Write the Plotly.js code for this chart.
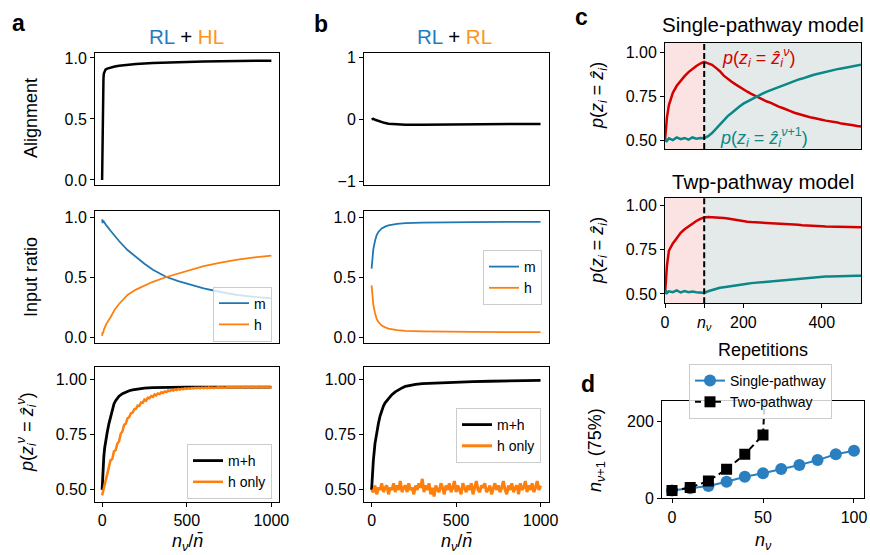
<!DOCTYPE html>
<html><head><meta charset="utf-8">
<script src="https://cdn.plot.ly/plotly-3.0.1.min.js"></script>
<style>html,body{margin:0;padding:0;background:#fff}#chart{width:870px;height:555px}</style>
</head><body><div id="chart"></div>
<script>
// ---------------- data ----------------
// panel a, top: alignment
const aAlignX = [0,2,4,6,8,10,15,20,30,50,75,100,150,200,300,400,500,600,700,800,900,1000];
const aAlignY = [0,0.35,0.62,0.76,0.83,0.87,0.895,0.905,0.913,0.922,0.93,0.937,0.945,0.95,0.958,0.964,0.968,0.971,0.974,0.976,0.977,0.978];
// panel a, middle: input ratio
const aRatioX = [0,3,6,10,25,50,75,100,150,200,250,300,380,450,500,600,700,800,900,1000];
const aRatioM = [0.98,0.95,0.97,0.96,0.93,0.885,0.84,0.80,0.725,0.665,0.61,0.56,0.50,0.465,0.445,0.405,0.375,0.35,0.335,0.322];
const aRatioH = [0.01,0.04,0.03,0.06,0.11,0.165,0.23,0.275,0.35,0.395,0.43,0.46,0.50,0.53,0.55,0.59,0.62,0.645,0.663,0.678];
// panel a, bottom: p(z = z^)
const aMhX = [0,3,6,10,15,20,25,30,40,50,60,70,80,90,100,120,140,160,180,200,250,300,350,400,500,600,700,800,900,1000];
const aMhY = [0.50,0.56,0.61,0.65,0.69,0.72,0.74,0.76,0.80,0.835,0.865,0.89,0.905,0.915,0.925,0.937,0.944,0.95,0.954,0.957,0.962,0.964,0.965,0.965,0.966,0.966,0.966,0.966,0.966,0.966];
const gridX = [0,10,20,30,40,50,60,70,80,90,100,110,120,130,140,150,160,170,180,190,200,210,220,230,240,250,260,270,280,290,300,310,320,330,340,350,360,370,380,390,400,410,420,430,440,450,460,470,480,490,500,510,520,530,540,550,560,570,580,590,600,610,620,630,640,650,660,670,680,690,700,710,720,730,740,750,760,770,780,790,800,810,820,830,840,850,860,870,880,890,900,910,920,930,940,950,960,970,980,990,1000];
const aHOnlyY = [0.475,0.51,0.54,0.58,0.60,0.635,0.64,0.675,0.68,0.71,0.72,0.755,0.765,0.795,0.80,0.825,0.83,0.848,0.85,0.866,0.868,0.882,0.881,0.897,0.895,0.91,0.905,0.918,0.916,0.926,0.922,0.933,0.929,0.938,0.935,0.943,0.94,0.947,0.944,0.951,0.948,0.954,0.951,0.956,0.953,0.958,0.955,0.959,0.957,0.961,0.958,
 0.961,0.959,0.962,0.96,0.963,0.961,0.963,0.961,0.964,0.962,0.964,0.962,0.965,0.963,0.965,0.963,0.965,0.964,0.966,0.964,0.966,0.964,0.966,0.965,0.967,0.965,0.967,0.965,0.967,0.965,0.967,0.965,0.967,0.966,0.968,0.965,0.967,0.966,0.968,0.965,0.967,0.966,0.968,0.965,0.967,0.966,0.968,0.965,0.967,0.966];
// panel b, top: alignment
const bAlignX = [0,10,25,50,75,100,150,200,300,400,500,600,700,800,900,1000];
const bAlignY = [0,0.01,-0.01,-0.035,-0.055,-0.068,-0.08,-0.085,-0.085,-0.083,-0.08,-0.078,-0.076,-0.074,-0.073,-0.072];
// panel b, middle: input ratio
const bRatioX = [0,5,10,20,30,40,50,60,80,100,150,200,300,400,600,800,1000];
const bRatioM = [0.57,0.66,0.73,0.80,0.85,0.875,0.89,0.905,0.92,0.93,0.943,0.949,0.953,0.956,0.958,0.959,0.96];
const bRatioH = [0.43,0.34,0.27,0.20,0.15,0.125,0.11,0.095,0.08,0.07,0.057,0.051,0.047,0.044,0.042,0.041,0.04];
// panel b, bottom
const bMhX = [0,5,10,20,30,40,50,60,70,80,100,120,140,160,180,200,230,260,300,400,500,600,700,800,900,1000];
const bMhY = [0.50,0.57,0.63,0.71,0.76,0.80,0.835,0.86,0.88,0.895,0.915,0.932,0.945,0.955,0.963,0.97,0.976,0.979,0.982,0.986,0.989,0.991,0.993,0.995,0.996,0.997];
const bHOnlyY = [0.50,0.49,0.52,0.48,0.51,0.50,0.53,0.49,0.51,0.52,
 0.48,0.51,0.50,0.53,0.49,0.52,0.50,0.54,0.49,0.51,
 0.52,0.49,0.53,0.50,0.51,0.48,0.52,0.50,0.53,0.51,
 0.55,0.49,0.52,0.50,0.53,0.48,0.51,0.47,0.52,0.50,
 0.49,0.53,0.51,0.48,0.52,0.50,0.53,0.49,0.51,0.54,
 0.49,0.52,0.50,0.48,0.53,0.51,0.49,0.52,0.50,0.53,
 0.48,0.51,0.54,0.50,0.49,0.52,0.51,0.53,0.49,0.50,
 0.52,0.48,0.51,0.53,0.50,0.52,0.49,0.51,0.54,0.50,
 0.48,0.52,0.50,0.53,0.49,0.51,0.52,0.48,0.53,0.50,
 0.51,0.54,0.49,0.52,0.50,0.53,0.49,0.51,0.54,0.50,0.52];
// panel c
const nuSwitch = 100;
const repMax = 500;
const cX = [0,2,5,10,20,30,40,50,60,70,80,90,100,110,120,130,140,150,160,170,180,190,200,210,220,230,240,250,260,270,280,290,300,310,320,330,340,350,360,370,380,390,400,410,420,430,440,450,460,470,480,490,500];
const cSingleCur = [0.50,0.56,0.63,0.70,0.77,0.81,0.84,0.865,0.888,0.908,0.923,0.937,0.946,0.938,0.93,0.912,0.893,0.868,0.848,0.833,0.818,0.803,0.789,0.776,0.764,0.752,0.742,0.731,0.72,0.712,0.70,0.691,0.683,0.672,0.665,0.656,0.649,0.641,0.636,0.63,0.626,0.619,0.616,0.611,0.608,0.602,0.60,0.594,0.592,0.587,0.585,0.58,0.578];
const cSingleNext = [0.49,0.505,0.495,0.51,0.50,0.515,0.505,0.512,0.503,0.515,0.508,0.512,0.51,0.522,0.54,0.565,0.59,0.612,0.637,0.655,0.675,0.692,0.708,0.72,0.735,0.745,0.757,0.767,0.777,0.786,0.795,0.803,0.813,0.82,0.83,0.836,0.845,0.851,0.86,0.866,0.873,0.879,0.885,0.89,0.896,0.90,0.905,0.909,0.914,0.917,0.922,0.925,0.93];
const cTwoCur = [0.50,0.58,0.66,0.745,0.785,0.815,0.845,0.865,0.882,0.898,0.912,0.924,0.932,0.934,0.933,0.935,0.931,0.929,0.926,0.922,0.917,0.913,0.91,0.908,0.906,0.905,0.903,0.903,0.901,0.90,0.899,0.898,0.897,0.896,0.894,0.893,0.891,0.888,0.886,0.884,0.883,0.882,0.882,0.881,0.881,0.88,0.88,0.88,0.879,0.879,0.878,0.878,0.877];
const cTwoNext = [0.50,0.52,0.505,0.515,0.51,0.52,0.508,0.516,0.51,0.514,0.509,0.507,0.506,0.515,0.522,0.53,0.535,0.538,0.542,0.545,0.549,0.552,0.555,0.558,0.561,0.563,0.566,0.568,0.571,0.573,0.576,0.578,0.58,0.582,0.584,0.586,0.588,0.59,0.592,0.594,0.595,0.597,0.597,0.598,0.599,0.60,0.60,0.601,0.601,0.601,0.602,0.602,0.602];
const cTicks = [0,100,200,400];
const cTickText = ['0','<i>n</i><sub><i>ν</i></sub>','200','400'];
// panel d
const dSingleX = [0,10,20,30,40,50,60,70,80,90,100];
const dSingleY = [20,26,32,43,56,65,76,86,99,114,123];
const dTwoX = [0,10,20,30,40,50,60];
const dTwoY = [20,28,45,75,114,164,1100];

// ---------------- styling ----------------
const W = 870, H = 555;
const FONT = 'Liberation Sans, Arial, Helvetica, sans-serif';
const C0 = '#1f77b4', C1 = '#ff7f0e', RED = '#d40000', TEAL = '#0b8787';
const PINK = '#fbe3e3', GREYBG = '#e4eaea';

// pixel boxes [left, right, top, bottom]
const boxes = [
  [95,279,52.5,184.5],   // a top
  [95,279,211,343],      // a mid
  [95,279,366.5,502],    // a bot
  [364,549,52.5,184.5],  // b top
  [364,549,211,343],     // b mid
  [364,549,366.5,502],   // b bot
  [665,861,42.5,149],    // c top
  [665,861,198,303.3],   // c bot
  [662,864,401,498.3]    // d
];
const xr = [[-42,1045],[-42,1045],[-42,1045],[-45,1050],[-45,1050],[-45,1050],[0,repMax],[0,repMax],[-5.5,105.5]];
const yr = [[-0.037,1.045],[-0.05,1.05],[0.445,1.06],[-1.05,1.08],[-0.05,1.05],[0.445,1.06],[0.449,1.057],[0.447,1.042],[0,252]];

const layout = {
  width: W, height: H,
  margin: {l:0, r:0, t:0, b:0},
  paper_bgcolor: '#fff', plot_bgcolor: 'rgba(0,0,0,0)',
  font: {family: FONT, color: '#000', size: 16},
  showlegend: true,
  annotations: [], shapes: []
};
const baseAx = {
  showline: true, mirror: true, linecolor: '#000', linewidth: 1,
  showgrid: false, zeroline: false, ticks: 'outside', ticklen: 4, tickwidth: 1,
  tickcolor: '#000', tickfont: {family: FONT, size: 16, color: '#000'}, fixedrange: true
};
boxes.forEach((b, i) => {
  const n = i + 1, xs = n === 1 ? '' : String(n);
  layout['xaxis' + xs] = Object.assign({}, baseAx, {
    domain: [b[0]/W, b[1]/W], range: xr[i], anchor: 'y' + xs
  });
  layout['yaxis' + xs] = Object.assign({}, baseAx, {
    domain: [1 - b[3]/H, 1 - b[2]/H], range: yr[i], anchor: 'x' + xs
  });
});
// tick setups
[1,2,4,5,7].forEach(n => {
  const k = 'xaxis' + (n === 1 ? '' : n);
  layout[k].showticklabels = false; layout[k].ticks = '';
});
layout.xaxis3.tickvals = [0,500,1000];
layout.xaxis6.tickvals = [0,500,1000];
layout.xaxis8.tickvals = cTicks; layout.xaxis8.ticktext = cTickText;
layout.xaxis9.tickvals = [0,50,100];
layout.yaxis.tickvals = [0,0.5,1]; layout.yaxis.tickformat = '.1f';
layout.yaxis2.tickvals = [0,0.5,1]; layout.yaxis2.tickformat = '.1f';
layout.yaxis5.tickvals = [0,0.5,1]; layout.yaxis5.tickformat = '.1f';
layout.yaxis4.tickvals = [-1,0,1];
[3,6,7,8].forEach(n => { layout['yaxis'+n].tickvals = [0.5,0.75,1]; layout['yaxis'+n].tickformat = '.2f'; });
layout.yaxis9.tickvals = [0,200];

// legends
const legBase = {
  bgcolor: 'rgba(255,255,255,0.8)', bordercolor: '#cccccc', borderwidth: 1,
  font: {family: FONT, size: 14, color: '#000'}, xref: 'paper', yref: 'paper',
  tracegroupgap: 0, itemwidth: 30
};
function px(x) { return x / W; }
function py(y) { return 1 - y / H; }
layout.legend  = Object.assign({}, legBase, {x: px(272), y: py(314), xanchor: 'right', yanchor: 'middle'});
layout.legend2 = Object.assign({}, legBase, {x: px(272), y: py(471.5), xanchor: 'right', yanchor: 'middle'});
layout.legend3 = Object.assign({}, legBase, {x: px(542), y: py(277.5), xanchor: 'right', yanchor: 'middle'});
layout.legend4 = Object.assign({}, legBase, {x: px(541), y: py(435.5), xanchor: 'right', yanchor: 'middle'});
layout.legend5 = Object.assign({}, legBase, {x: px(689), y: py(391.5), xanchor: 'left', yanchor: 'middle'});

// ---------------- traces ----------------
const traces = [];
function line(x, y, ax, color, width, name, legend, extra) {
  const n = ax === 1 ? '' : String(ax);
  const t = Object.assign({
    type: 'scatter', mode: 'lines', x: x, y: y, xaxis: 'x' + n, yaxis: 'y' + n,
    line: {color: color, width: width}, name: name || '',
    showlegend: !!legend, hoverinfo: 'skip'
  }, extra || {});
  if (legend) t.legend = legend;
  traces.push(t);
}
line(aAlignX, aAlignY, 1, '#000', 2.5);
line(aRatioX, aRatioM, 2, C0, 1.8, 'm', 'legend');
line(aRatioX, aRatioH, 2, C1, 1.8, 'h', 'legend');
line(aMhX, aMhY, 3, '#000', 2.8, 'm+h', 'legend2');
line(gridX, aHOnlyY, 3, C1, 2.5, 'h only', 'legend2');
line(bAlignX, bAlignY, 4, '#000', 2.5);
line(bRatioX, bRatioM, 5, C0, 1.8, 'm', 'legend3');
line(bRatioX, bRatioH, 5, C1, 1.8, 'h', 'legend3');
line(bMhX, bMhY, 6, '#000', 2.8, 'm+h', 'legend4');
line(gridX, bHOnlyY, 6, C1, 3, 'h only', 'legend4');
line(cX, cSingleCur, 7, RED, 2.5);
line(cX, cSingleNext, 7, TEAL, 2.5);
line(cX, cTwoCur, 8, RED, 2.5);
line(cX, cTwoNext, 8, TEAL, 2.5);
line(dSingleX, dSingleY, 9, '#2a7fc0', 2, 'Single-pathway', 'legend5',
  {mode: 'lines+markers', marker: {symbol: 'circle', size: 12, color: '#2a7fc0'}});
line(dTwoX, dTwoY, 9, '#000', 2, 'Two-pathway', 'legend5',
  {mode: 'lines+markers', line: {color: '#000', width: 2, dash: '6px,4px'}, marker: {symbol: 'square', size: 11, color: '#000'}});

// ---------------- shapes (panel c) ----------------
[7, 8].forEach(n => {
  layout.shapes.push({type: 'rect', xref: 'x'+n, yref: 'y'+n+' domain', x0: 0, x1: nuSwitch, y0: 0, y1: 1,
    fillcolor: PINK, line: {width: 0}, layer: 'below'});
  layout.shapes.push({type: 'rect', xref: 'x'+n, yref: 'y'+n+' domain', x0: nuSwitch, x1: repMax, y0: 0, y1: 1,
    fillcolor: GREYBG, line: {width: 0}, layer: 'below'});
  layout.shapes.push({type: 'line', xref: 'x'+n, yref: 'y'+n+' domain', x0: nuSwitch, x1: nuSwitch, y0: 0, y1: 1,
    line: {color: '#000', width: 2, dash: '6px,3px'}, layer: 'above'});
});

// ---------------- annotations ----------------
function ann(x, y, text, opts) {
  layout.annotations.push(Object.assign({
    xref: 'paper', yref: 'paper', x: px(x), y: py(y), text: text, showarrow: false,
    xanchor: 'center', yanchor: 'middle', font: {family: FONT, size: 18, color: '#000'}
  }, opts || {}));
}
const bold = {family: FONT, size: 23, color: '#000', weight: 'bold'};
ann(18, 23, '<b>a</b>', {font: bold});
ann(321, 24, '<b>b</b>', {font: bold});
ann(581, 17, '<b>c</b>', {font: bold});
ann(588, 384, '<b>d</b>', {font: bold});
ann(186, 37, '<span style="color:#1f7cc2">RL</span> + <span style="color:#ff951a">HL</span>', {font: {family: FONT, size: 20.5, color: '#000'}});
ann(454, 36, '<span style="color:#1f7cc2">RL</span> + <span style="color:#ff951a">RL</span>', {font: {family: FONT, size: 20.5, color: '#000'}});
ann(763, 25, 'Single-pathway model', {font: {family: FONT, size: 20.5, color: '#000'}});
ann(763, 181.5, 'Twp-pathway model', {font: {family: FONT, size: 20.5, color: '#000'}});
ann(720, 57, '<i>p</i>(<i>z</i><sub><i>i</i></sub> = <i>ẑ</i><sub><i>i</i></sub><sup><i>ν</i></sup>)', {xanchor: 'left', font: {family: FONT, size: 18, color: RED}});
ann(718, 137, '<i>p</i>(<i>z</i><sub><i>i</i></sub> = <i>ẑ</i><sub><i>i</i></sub><sup><i>ν</i>+1</sup>)', {xanchor: 'left', font: {family: FONT, size: 18, color: TEAL}});
// axis titles
ann(31, 118, 'Alignment', {textangle: -90});
ann(31, 277, 'Input ratio', {textangle: -90});
ann(26, 432, '<i>p</i>(<i>z</i><sub><i>i</i></sub><sup><i>ν</i></sup> = <i>ẑ</i><sub><i>i</i></sub><sup><i>ν</i></sup>)', {textangle: -90});
ann(598, 96, '<i>p</i>(<i>z</i><sub><i>i</i></sub> = <i>ẑ</i><sub><i>i</i></sub>)', {textangle: -90});
ann(598, 251, '<i>p</i>(<i>z</i><sub><i>i</i></sub> = <i>ẑ</i><sub><i>i</i></sub>)', {textangle: -90});
ann(596, 450, '<i>n</i><sub><i>ν</i>+1</sub> (75%)', {textangle: -90});
ann(187, 542, '<i>n</i><sub><i>ν</i></sub>/<i>n̄</i>');
ann(456, 542, '<i>n</i><sub><i>ν</i></sub>/<i>n̄</i>');
ann(763, 350, 'Repetitions');
ann(763, 541, '<i>n</i><sub><i>ν</i></sub>');

Plotly.newPlot('chart', traces, layout, {displayModeBar: false, staticPlot: true});
</script></body></html>
